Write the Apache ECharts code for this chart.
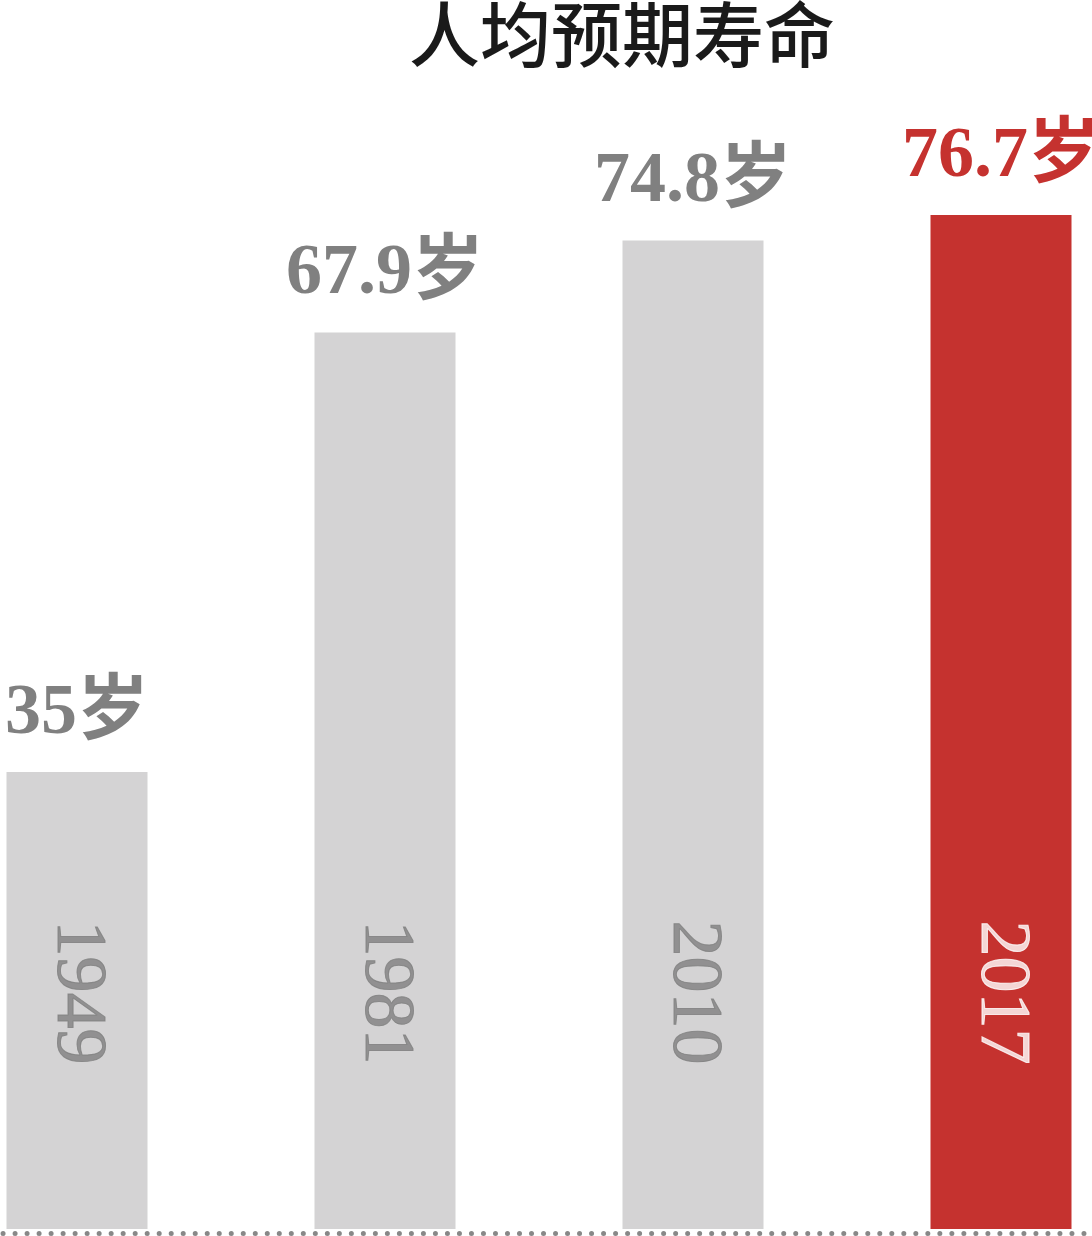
<!DOCTYPE html>
<html><head><meta charset="utf-8">
<script src="https://cdn.jsdelivr.net/npm/echarts@6/dist/echarts.min.js"></script>
<style>html,body{margin:0;padding:0;background:#fff}#c{width:1092px;height:1236px}</style>
</head><body><div id="c"></div>
<script>
var title = '人均预期寿命';
var years = ['1949', '1981', '2010', '2017'];
var values = [35, 67.9, 74.8, 76.7];
var highlight = [false, false, false, true];

var GREY = '#d4d3d4', RED = '#c5322f', TXT = '#808080';
var SERIF = '"Liberation Serif","Noto Sans CJK SC",serif';

var chart = echarts.init(document.getElementById('c'));
chart.setOption({
  animation: false,
  backgroundColor: '#fff',
  title: {
    text: title, left: 404, top: -6,
    textStyle: {fontFamily: '"Noto Sans CJK SC"', fontSize: 71, fontWeight: 500, color: '#1a1a1a'}
  },
  grid: {left: -77, right: -63, top: 171, bottom: 7, outerBoundsMode: 'none', containLabel: false},
  xAxis: {
    type: 'category', data: years, offset: 4,
    axisLine: {show: true, lineStyle: {color: '#888', width: 5, type: [0.01, 12], dashOffset: -8, cap: 'round'}},
    axisTick: {show: false}, axisLabel: {show: false}
  },
  yAxis: {type: 'value', min: 0.786, max: 80, show: false, splitLine: {show: false}},
  series: [{
    type: 'bar', barWidth: 141,
    data: values.map(function (v, i) {
      return {
        value: v,
        itemStyle: {color: highlight[i] ? RED : GREY},
        label: {color: highlight[i] ? RED : TXT}
      };
    }),
    label: {
      show: true, position: 'top', distance: 22,
      fontFamily: SERIF, fontSize: 72, fontWeight: 'bold',
      formatter: function (p) { return p.value + '岁'; }
    }
  }, {
    type: 'scatter', symbolSize: 0, silent: true, z: 5,
    data: years.map(function (y, i) {
      var c = highlight[i] ? '#ffffff' : TXT;
      return {value: [y, 18.5], label: {color: c, textBorderColor: c, textBorderWidth: 1}};
    }),
    label: {
      show: true, position: 'inside', rotate: -90,
      align: 'center', verticalAlign: 'middle',
      fontFamily: SERIF, fontSize: 72, fontWeight: 'normal',
      formatter: function (p) { return years[p.dataIndex]; }
    }
  }]
});
</script></body></html>
